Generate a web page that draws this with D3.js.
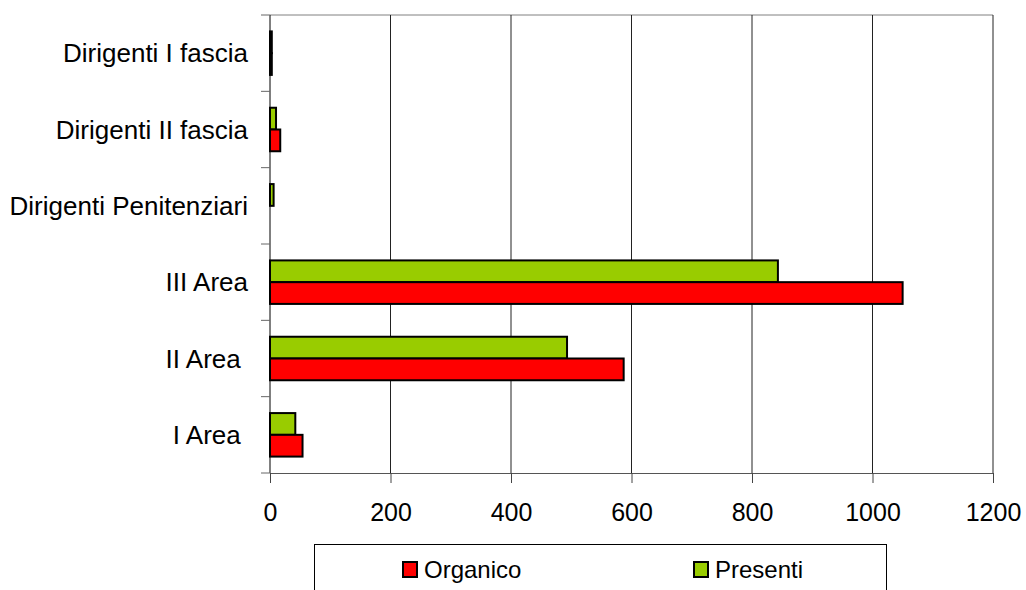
<!DOCTYPE html>
<html>
<head>
<meta charset="utf-8">
<script src="https://cdn.jsdelivr.net/npm/d3@7"></script>
<style>
  body { margin: 0; background: #fff; }
  text { font-family: "Liberation Sans", Arial, sans-serif; fill: #000; }
</style>
</head>
<body>
<svg id="chart" width="1026" height="590"></svg>
<script>
"use strict";

// categories from top to bottom
const categories = ["Dirigenti I fascia", "Dirigenti II fascia", "Dirigenti Penitenziari",
    "III Area", "II Area ", "I Area "];
const organico = [3, 17, 0, 1050, 587, 54];
const presenti = [3, 10, 6, 843, 493, 42];
const xTicks = [0, 200, 400, 600, 800, 1000, 1200];

const series = [
    {name: "Presenti", values: presenti, color: "#99CC00"},
    {name: "Organico", values: organico, color: "#FF0000"}
];
const legendOrder = ["Organico", "Presenti"];

const svg = d3.select("#chart"),
    plot = {left: 270, right: 993, top: 15, bottom: 473},
    x = d3.scaleLinear().domain([0, 1200]).range([plot.left, plot.right]),
    y = d3.scaleBand().domain(categories).range([plot.top, plot.bottom])
        .paddingInner(0.43).paddingOuter(0.215),
    ySub = d3.scaleBand().domain(series.map(s => s.name)).range([0, y.bandwidth()]);

// top border
svg.append("line")
    .attr("x1", plot.left).attr("x2", plot.right)
    .attr("y1", plot.top).attr("y2", plot.top)
    .attr("stroke", "#808080");

// vertical gridlines
svg.append("g").selectAll("line")
    .data(xTicks.slice(1))
    .enter().append("line")
    .attr("x1", d => x(d)).attr("x2", d => x(d))
    .attr("y1", plot.top).attr("y2", plot.bottom)
    .attr("stroke", "#222").attr("stroke-width", 1);

// x axis
const gx = svg.append("g")
    .attr("transform", `translate(0,${plot.bottom})`)
    .call(d3.axisBottom(x).tickValues(xTicks).tickFormat(d3.format("d"))
        .tickSize(10).tickSizeOuter(0).tickPadding(20));
gx.select(".domain").attr("stroke", "#555");
gx.selectAll(".tick line").attr("stroke", "#444");
gx.selectAll(".tick text").attr("font-size", 25).attr("font-family", "Liberation Sans, Arial");

// bars
series.forEach(s => {
    svg.append("g").selectAll("rect")
        .data(categories.map((c, i) => ({c, v: s.values[i]})).filter(d => d.v > 0))
        .enter().append("rect")
        .attr("x", x(0))
        .attr("y", d => y(d.c) + ySub(s.name))
        .attr("width", d => x(d.v) - x(0))
        .attr("height", ySub.bandwidth())
        .attr("fill", s.color)
        .attr("stroke", "#000")
        .attr("stroke-width", 2);
});

// y axis line and ticks at band boundaries
svg.append("line")
    .attr("x1", plot.left).attr("x2", plot.left)
    .attr("y1", plot.top).attr("y2", plot.bottom)
    .attr("stroke", "#000");
svg.append("g").selectAll("line")
    .data(d3.range(categories.length + 1))
    .enter().append("line")
    .attr("x1", plot.left - 9).attr("x2", plot.left)
    .attr("y1", i => plot.top + i * y.step()).attr("y2", i => plot.top + i * y.step())
    .attr("stroke", "#666");

// category labels
svg.append("g").selectAll("text")
    .data(categories)
    .enter().append("text")
    .attr("x", 248)
    .attr("y", d => y(d) + y.bandwidth() / 2)
    .attr("dy", "0.35em")
    .attr("text-anchor", "end")
    .attr("font-size", 26)
    .style("white-space", "pre")
    .text(d => d);

// legend
const legend = svg.append("g");
legend.append("rect")
    .attr("x", 314.5).attr("y", 544.5)
    .attr("width", 572).attr("height", 60)
    .attr("fill", "#fff").attr("stroke", "#000");
const legendX = d3.scalePoint().domain(legendOrder).range([402, 693]);
legendOrder.forEach(name => {
    const s = series.find(d => d.name === name);
    legend.append("rect")
        .attr("x", legendX(name) + 1).attr("y", 562)
        .attr("width", 14).attr("height", 15)
        .attr("fill", s.color).attr("stroke", "#000").attr("stroke-width", 2);
    legend.append("text")
        .attr("x", legendX(name) + 22).attr("y", 578)
        .attr("font-size", 24)
        .text(name);
});
</script>
</body>
</html>
